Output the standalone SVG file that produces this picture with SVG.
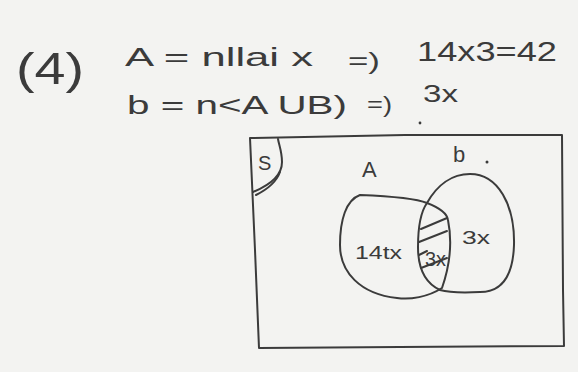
<svg xmlns="http://www.w3.org/2000/svg" width="578" height="372" viewBox="0 0 578 372">
<style>
.ink{fill:none;stroke:#3b3b3b;stroke-width:2;stroke-linecap:round;stroke-linejoin:round}
.t{font-family:"Liberation Sans",Arial,sans-serif;fill:#3b3b3b}
</style>
<rect width="578" height="372" fill="#f3f3f1"/>
<g id="equations">
<text class="t" x="16" y="84" font-size="44" textLength="68" lengthAdjust="spacingAndGlyphs">(4)</text>
<text class="t" x="125" y="66" font-size="26" textLength="188" lengthAdjust="spacingAndGlyphs">A = nllai x</text>
<text class="t" x="348" y="69" font-size="24" textLength="32" lengthAdjust="spacingAndGlyphs">=)</text>
<text class="t" x="417" y="61" font-size="27" textLength="140" lengthAdjust="spacingAndGlyphs">14x3=42</text>
<text class="t" x="127" y="114" font-size="25" textLength="220" lengthAdjust="spacingAndGlyphs">b = n&lt;A UB)</text>
<text class="t" x="367" y="112" font-size="22" textLength="25" lengthAdjust="spacingAndGlyphs">=)</text>
<text class="t" x="423" y="102" font-size="24" textLength="35" lengthAdjust="spacingAndGlyphs">3x</text>
<circle cx="420" cy="123" r="1.4" fill="#3b3b3b"/>
</g>
<g id="universe">
<path class="ink" d="M250 138 L405 135 L562 135 L563 290 L564 346 L400 347 L259 348 L255 250 Z"/>
<path class="ink" d="M253 192 C270 185 282 175 282 162 C282 152 279 145 278 139"/>
<path class="ink" d="M256 195 C266 190 276 183 280 172" stroke-width="1.5"/>
<text class="t" x="258" y="170" font-size="20">S</text>
</g>
<g id="setA">
<path class="ink" d="M360 195 C385 196 415 198 427 203 C440 208 447 213 448 220 C452 240 450 265 442 288 C428 297 410 300 397 298 C360 294 340 272 340 245 C340 220 346 200 360 195 Z"/>
<text class="t" x="362" y="177" font-size="22">A</text>
<text class="t" x="355" y="259" font-size="19" textLength="47" lengthAdjust="spacingAndGlyphs">14tx</text>
</g>
<g id="setB">
<path class="ink" d="M470 174 C498 174 515 205 514 245 C513 275 503 292 480 292 C460 293 447 292 440 290 C425 283 418 268 418 247 C418 225 422 210 427 203 C437 185 452 174 470 174 Z"/>
<text class="t" x="453" y="162" font-size="22">b</text>
<circle cx="487" cy="162" r="1.5" fill="#3b3b3b"/>
<text class="t" x="462" y="244" font-size="18" textLength="28" lengthAdjust="spacingAndGlyphs">3x</text>
</g>
<g id="intersection">
<path class="ink" d="M421 229 L447 218" stroke-width="1.6"/>
<path class="ink" d="M419 242 L447 231" stroke-width="1.6"/>
<path class="ink" d="M419 255 L427 251" stroke-width="1.6"/>
<path class="ink" d="M421 268 L447 258" stroke-width="1.6"/>
<text class="t" x="425" y="266" font-size="20" textLength="21" lengthAdjust="spacingAndGlyphs">3x</text>
</g>
</svg>
